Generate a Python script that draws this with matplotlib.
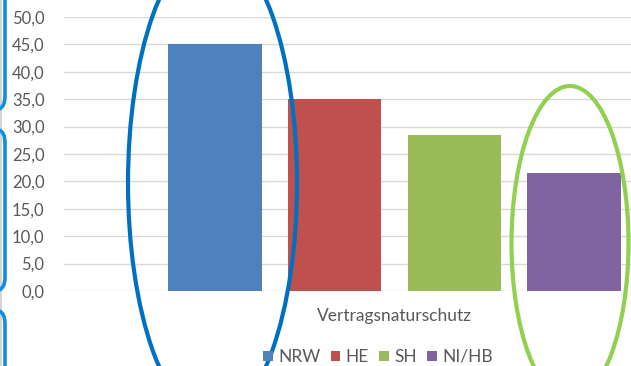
import matplotlib.pyplot as plt
from matplotlib.patches import Ellipse, Patch, Rectangle, PathPatch
from matplotlib.path import Path
from matplotlib.ticker import FuncFormatter

# Daten
kategorie = "Vertragsnaturschutz"
laender = ["NRW", "HE", "SH", "NI/HB"]
werte = [45.0, 35.0, 28.5, 21.5]
farben = ["#4f81bd", "#c0504d", "#9bbb59", "#8064a2"]
y_ticks = [0, 5, 10, 15, 20, 25, 30, 35, 40, 45, 50]

W, H = 631, 366
plt.rcParams['font.family'] = ['Lato', 'DejaVu Sans']

fig = plt.figure(figsize=(W / 100, H / 100), dpi=100)
# Plotbereich (rechts abgeschnitten wie im Original)
ax = fig.add_axes([64 / W, 75 / H, 661 / W, 274 / H])

pitch = 0.362
breite = 0.283
n = len(laender)
for i, (land, wert, farbe) in enumerate(zip(laender, werte, farben)):
    x = (i - (n - 1) / 2) * pitch
    ax.bar(x, wert, width=breite, color=farbe, edgecolor='none', zorder=2)

ax.set_xlim(-1, 1)
ax.set_ylim(0, 50)
ax.set_yticks(y_ticks)
ax.yaxis.set_major_formatter(FuncFormatter(lambda v, p: f"{v:.1f}".replace('.', ',')))
ax.grid(axis='y', color='#d9d9d9', linewidth=1, zorder=0)
ax.set_xticks([0])
ax.set_xticklabels([kategorie])
ax.tick_params(axis='y', length=0, labelsize=12, labelcolor='#595959', pad=14)
ax.tick_params(axis='x', length=0, labelsize=12.5, labelcolor='#595959', pad=12)
for s in ax.spines.values():
    s.set_visible(False)

handles = [Patch(facecolor=f, edgecolor='none', label=l) for l, f in zip(laender, farben)]
fig.legend(handles=handles, loc='center', bbox_to_anchor=(378 / W, 1 - 357 / H),
           ncol=4, frameon=False, fontsize=12.5, labelcolor='#595959',
           handlelength=0.55, handleheight=0.55, handletextpad=0.3, columnspacing=0.6)

# Overlay fuer Markierungen (Pixelkoordinaten)
ov = fig.add_axes([0, 0, 1, 1], facecolor='none')
ov.set_xlim(0, W)
ov.set_ylim(H, 0)
ov.axis('off')

ov.add_patch(Ellipse((212.5, 183), 169, 474, fill=False, edgecolor='#0070c0', linewidth=3.0))
ov.add_patch(Ellipse((570, 243), 117, 314, fill=False, edgecolor='#92d050', linewidth=3.0))

# Klammern am linken Rand
ov.add_patch(Rectangle((0, 0), 2, H, facecolor='#d4d4d4', edgecolor='none'))
klammer = '#0a8ee8'
pfade = [
    ([(5, -5), (5, 96), (5, 107), (-1, 109)],
     [Path.MOVETO, Path.LINETO, Path.CURVE3, Path.CURVE3]),
    ([(-1, 130), (5, 132), (5, 143), (5, 277), (5, 288), (-1, 290)],
     [Path.MOVETO, Path.CURVE3, Path.CURVE3, Path.LINETO, Path.CURVE3, Path.CURVE3]),
    ([(-1, 311), (5, 313), (5, 324), (5, 372)],
     [Path.MOVETO, Path.CURVE3, Path.CURVE3, Path.LINETO]),
]
for pts, codes in pfade:
    ov.add_patch(PathPatch(Path(pts, codes), fill=False, edgecolor=klammer, linewidth=2.6))

fig.savefig("out.png", dpi=100)
